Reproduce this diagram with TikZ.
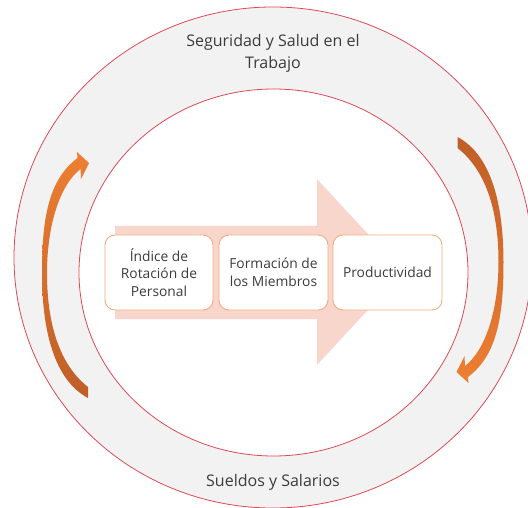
\documentclass[tikz,border=0pt]{standalone}
\usepackage{fontspec}
\setmainfont{Open Sans}
\definecolor{ringfill}{HTML}{F2F2F2}
\definecolor{ringred}{HTML}{DC4A55}
\definecolor{peach}{HTML}{F8D6CB}
\definecolor{boxline}{HTML}{F2AC80}
\definecolor{txt}{HTML}{3C3C3C}
\definecolor{arrbright}{HTML}{EE7F32}
\definecolor{arrdark}{HTML}{BE5E27}
\begin{document}
\begin{tikzpicture}[x=1pt,y=-1pt,
  ring/.style={fill=ringfill, draw=ringred, line width=0.8pt},
  inner/.style={fill=white, draw=ringred, line width=0.8pt},
  stepbox/.style={draw=boxline, fill=white, line width=0.9pt, rounded corners=10pt,
    minimum width=108pt, minimum height=75pt, inner sep=2pt, align=center,
    text=txt, font=\fontsize{13.8}{17.5}\selectfont},
  ringtext/.style={text=txt, align=center, font=\fontsize{16}{22}\selectfont, inner sep=0pt}]
\useasboundingbox (0,0) rectangle (528,508);
\clip (0,0) rectangle (528,508);
% rings
\path[ring] (273,257.5) ellipse [x radius=259, y radius=250.5];
\path[inner] (273.5,272.5) ellipse [x radius=194.5, y radius=183.5];
% ring labels
\node[ringtext] (top) at (273,53) {Seguridad y Salud en el\\Trabajo};
\node[ringtext] (bottom) at (273,482) {Sueldos y Salarios};
% big background arrow
\fill[peach] (115,226) -- (317,226) -- (317,179) -- (403,272) -- (317,365) -- (317,319) -- (115,319) -- cycle;
% boxes
\node[stepbox] (b1) at (159,272.5) {Índice de\\Rotación de\\Personal};
\node[stepbox, minimum width=109pt] (b2) at (273.5,272.5) {Formación de\\los Miembros};
\node[stepbox, minimum width=109pt] (b3) at (387.5,272.5) {Productividad};
% left curved arrow (tail at bottom, head at top)
\shade[top color=arrbright, bottom color=arrdark]
  (88,398) .. controls (54,380) and (42,330) .. (42,273)
  .. controls (42,220) and (48,180) .. (77.5,158)
  -- (77,152) -- (89,163) -- (81,179) -- (80.5,169)
  .. controls (60,185) and (47,225) .. (47,273)
  .. controls (47,325) and (60,365) .. (88,387) -- cycle;
% right curved arrow (tail at top, head at bottom)
\shade[top color=arrdark, bottom color=arrbright]
  (457.5,137) .. controls (491.5,155) and (503.5,205) .. (503.5,262)
  .. controls (503.5,315) and (497.5,355) .. (468,377)
  -- (468.5,383) -- (456.5,372) -- (464.5,356) -- (465,366)
  .. controls (485.5,350) and (498.5,310) .. (498.5,262)
  .. controls (498.5,210) and (485.5,170) .. (457.5,148) -- cycle;
\end{tikzpicture}
\end{document}
